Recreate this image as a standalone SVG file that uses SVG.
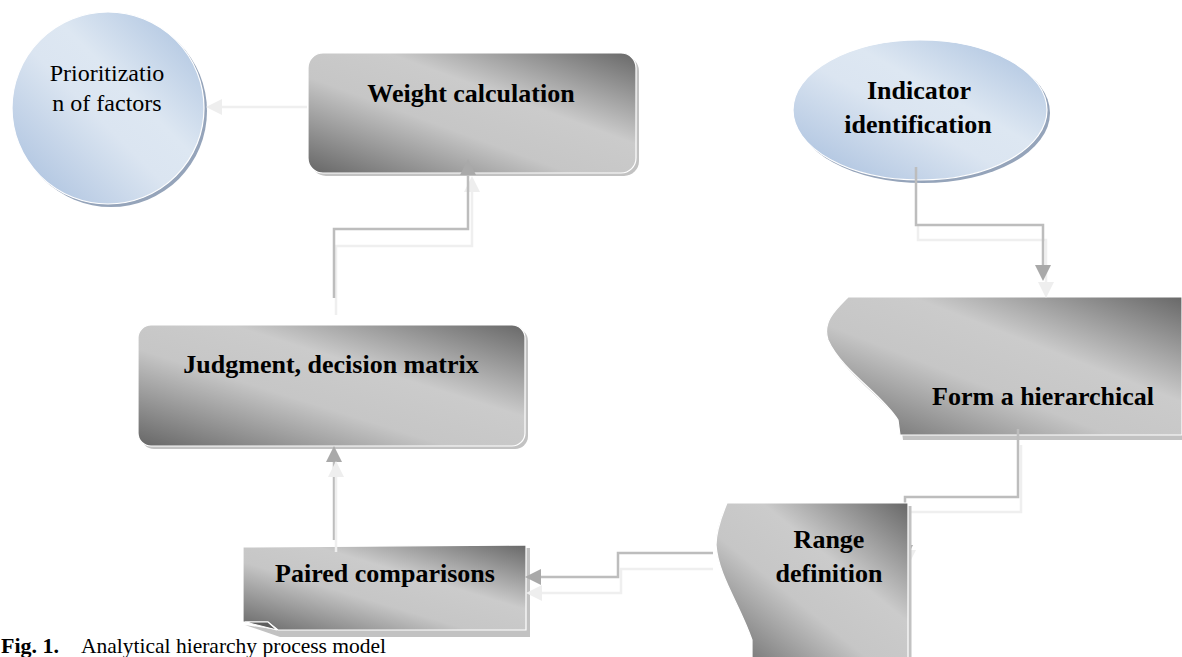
<svg xmlns="http://www.w3.org/2000/svg" width="1182" height="657" viewBox="0 0 1182 657">
<defs>
  <linearGradient id="gray" x1="0" y1="1" x2="1" y2="0">
    <stop offset="0" stop-color="#666666"/>
    <stop offset="0.4" stop-color="#c6c6c6"/>
    <stop offset="0.62" stop-color="#cbcbcb"/>
    <stop offset="1" stop-color="#686868"/>
  </linearGradient>
  <linearGradient id="blue" x1="0" y1="1" x2="1" y2="0">
    <stop offset="0" stop-color="#a4bcdc"/>
    <stop offset="0.45" stop-color="#dbe5f1"/>
    <stop offset="0.6" stop-color="#dde7f2"/>
    <stop offset="1" stop-color="#a6bedd"/>
  </linearGradient>
  <marker id="ad" markerUnits="userSpaceOnUse" markerWidth="16" markerHeight="16" viewBox="0 0 15 15" refX="0" refY="7.5" orient="auto">
    <path d="M0,0 L15,7.5 L0,15 Z" fill="#a9a9a9"/>
  </marker>
  <marker id="al" markerUnits="userSpaceOnUse" markerWidth="16" markerHeight="16" viewBox="0 0 15 15" refX="0" refY="7.5" orient="auto">
    <path d="M0,0 L15,7.5 L0,15 Z" fill="#eeeeee"/>
  </marker>
</defs>
<style>
  .shape { fill: url(#gray); stroke: #ffffff; stroke-width: 1.2; }
  .oval { fill: url(#blue); stroke: #ffffff; stroke-width: 1.2; }
  .shadow { fill: #c2c2c2; }
  .bshadow { fill: #95a4ba; }
  .dk { fill: none; stroke: #bdbdbd; stroke-width: 2.5; marker-end: url(#ad); }
  .lt { fill: none; stroke: #efefef; stroke-width: 2.5; marker-end: url(#al); }
  .b { font-family: "Liberation Serif", "Times New Roman", serif; font-weight: bold; font-size: 26px; fill: #000; text-anchor: middle; }
  .r { font-family: "Liberation Serif", "Times New Roman", serif; font-size: 24px; fill: #000; text-anchor: middle; }
  .cap { font-family: "Liberation Serif", "Times New Roman", serif; font-size: 21.5px; fill: #000; }
</style>

<g id="node-prioritization">
  <circle class="bshadow" cx="111" cy="111" r="96"/>
  <circle class="oval" cx="108" cy="108" r="96"/>
  <text class="r" x="107" y="81">Prioritizatio</text>
  <text class="r" x="107" y="111">n of factors</text>
</g>

<g id="node-weight">
  <rect class="shadow" x="311" y="56" width="328" height="120" rx="15"/>
  <rect class="shape" x="308" y="53" width="328" height="120" rx="15"/>
  <text class="b" x="471" y="102">Weight calculation</text>
</g>

<g id="node-indicator">
  <ellipse class="bshadow" cx="923" cy="113" rx="127" ry="70"/>
  <ellipse class="oval" cx="920" cy="110" rx="127" ry="70"/>
  <text class="b" x="919" y="99">Indicator</text>
  <text class="b" x="918" y="133">identification</text>
</g>

<g id="node-hierarchy">
  <path class="shadow" d="M851,301 L1182,301 L1182,440 L903,440 L901,424 C885,398 845,375 831,344 C825,326 838,314 851,301 Z"/>
  <path class="shape" d="M848,297 L1182,297 L1182,435 L900,435 L898,420 C882,394 842,371 828,340 C822,322 835,310 848,297 Z"/>
  <text class="b" x="1043" y="405">Form a hierarchical</text>
</g>

<g id="node-judgment">
  <rect class="shadow" x="141" y="328" width="387" height="121" rx="13"/>
  <rect class="shape" x="138" y="325" width="387" height="121" rx="13"/>
  <text class="b" x="331" y="373">Judgment, decision matrix</text>
</g>

<g id="node-paired">
  <path class="shadow" d="M245,625 L280,637 L530,637 L530,548 L526,548 L526,630 L278,630 Z"/>
  <path class="shape" d="M243,547 L526,545 L526,630 L278,630 L268,622 L243,622 Z"/>
  <path d="M245,622 L268,622 L277,630 Z" fill="#5e5e5e" stroke="#ffffff" stroke-width="1.2"/>
  <text class="b" x="385" y="582">Paired comparisons</text>
</g>

<g id="connectors">
  <path class="lt" d="M918,225 V240 H1046 V282"/>
  <path class="dk" d="M916,167 V225 H1043 V265"/>
  <path class="lt" d="M1021,445 V512 H908 V550"/>
  <path class="dk" d="M1018,429 V497 H905 V545"/>
  <path class="lt" d="M713,569 H621 V593 H542"/>
  <path class="dk" d="M713,553 H618 V577 H541"/>
  <path class="dk" d="M334,540 V462"/>
  <path class="lt" d="M336,552 V477"/>
  <path class="lt" d="M336,315 V246 H472 V192"/>
  <path class="dk" d="M334,298 V229 H468 V175"/>
  <path class="lt" d="M307,107 H222"/>
</g>

<g id="node-range">
  <rect class="shadow" x="908" y="506" width="3.5" height="151"/>
  <path class="shape" d="M727,503 L908,503 L908,660 L752,660 L752,640 C740,605 718,575 716,545 C716,530 722,515 727,503 Z"/>
  <text class="b" x="829" y="548">Range</text>
  <text class="b" x="829" y="582">definition</text>
</g>

<text class="cap" x="1" y="653"><tspan font-weight="bold" font-size="22px">Fig. 1.</tspan><tspan x="81">Analytical hierarchy process model</tspan></text>
</svg>
